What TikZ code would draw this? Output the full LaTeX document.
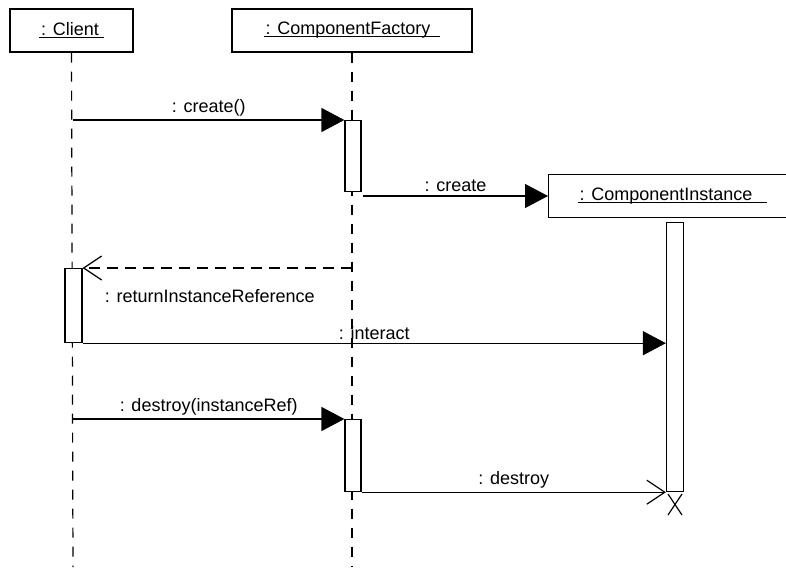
\documentclass[tikz,border=0pt]{standalone}
\usepackage{fontspec}
\setmainfont{Liberation Sans}
\usetikzlibrary{arrows.meta}

\newcommand\objname[1]{\setbox0\hbox{\kern2pt#1}\rlap{\rule[-2.5pt]{\wd0}{1pt}}\box0}

\begin{document}
\begin{tikzpicture}[x=1pt,y=-1pt,line width=1.2pt,
        font=\fontsize{18}{20}\selectfont,
        obj/.style={draw,minimum height=43pt,inner sep=0pt},
        act/.style={draw,fill=white,minimum width=16pt,inner sep=0pt,anchor=north},
        life/.style={line width=1.2pt,dash pattern=on 10pt off 9pt},
        call/.style={-{Triangle[length=23pt,width=24pt]}},
        reply/.style={dash pattern=on 11pt off 7pt,-{Straight Barb[length=18pt,width=24pt]}},
        kill/.style={-{Straight Barb[length=18pt,width=24pt]}}]
      \useasboundingbox (0,0) rectangle (786,567);
      % objects
      \node[obj,minimum width=123pt] (client) at (71.5,30.5) {\objname{: Client\ }};
      \node[obj,minimum width=240pt] (factory) at (352,30.5) {\objname{: ComponentFactory\ \ }};
      \node[obj,minimum width=252pt,anchor=west] (instance) at (548,196) {\hspace*{-4pt}\objname{: ComponentInstance\ \ \ }};
      % lifelines
      \draw[life] (client.south) -- (73,567);
      \draw[life] (factory.south) -- (352,567);
      % activations
      \node[act,minimum height=71pt] (fa1) at (353,120) {};
      \node[act,minimum height=74pt,minimum width=17pt] (ca) at (73.5,268) {};
      \node[act,minimum height=269pt,minimum width=17pt] (ia) at (675,222) {};
      \node[act,minimum height=72pt] (fa2) at (353,419) {};
      \coordinate (c1) at (73,120);
      \coordinate (c2) at (73,419);
      \coordinate (f1) at (352,268);
      \coordinate (f2) at (363,196);
      % messages
      \path (c1) edge[call] node[above] {: create()} (fa1.north west)
      (f2) edge[call] node[above] {: create} (instance.west)
      (ca.south east) edge[call] node[above] {: interact} (ia.west |- ca.south east)
      (c2) edge[call] node[above] {: destroy(instanceRef)} (fa2.north west)
      (fa2.south east) edge[kill] node[above] {: destroy} (ia.south west);
      \draw[reply] (f1) -- (ca.north east);
      \node[anchor=west] (rlabel) at (101,296) {: returnInstanceReference};
      % end of instance
      \draw (668,494) -- (682,515) (682,494) -- (668,515);
\end{tikzpicture}
\end{document}
